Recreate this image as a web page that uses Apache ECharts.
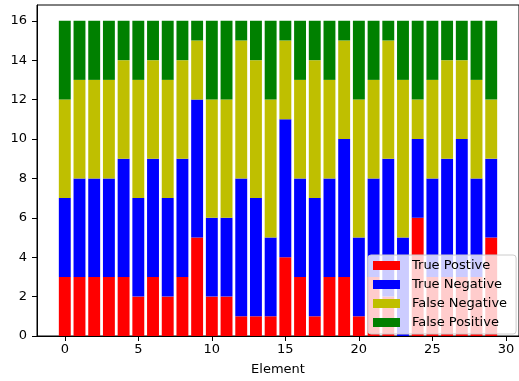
<!DOCTYPE html>
<html>
<head>
<meta charset="utf-8">
<script src="https://cdn.jsdelivr.net/npm/echarts@6/dist/echarts.min.js"></script>
<style>
  html, body { margin: 0; padding: 0; background: #ffffff; }
  #chart { width: 519px; height: 381px; }
</style>
</head>
<body>
<div id="chart"></div>
<script>
// Element indices along the x axis
const elements = [0, 1, 2, 3, 4, 5, 6, 7, 8, 9, 10, 11, 12, 13, 14, 15, 16, 17, 18, 19, 20, 21, 22, 23, 24, 25, 26, 27, 28, 29];

// Counts per element, stacked bottom to top
const truePositive  = [3, 3, 3, 3, 3, 2, 3, 2, 3, 5, 2, 2, 1, 1, 1, 4, 3, 1, 3, 3, 1, 3, 2, 0, 6, 3, 3, 3, 3, 5];
const trueNegative  = [4, 5, 5, 5, 6, 5, 6, 5, 6, 7, 4, 4, 7, 6, 4, 7, 5, 6, 5, 7, 4, 5, 7, 5, 4, 5, 6, 7, 5, 4];
const falseNegative = [5, 5, 5, 5, 5, 6, 5, 6, 5, 3, 6, 6, 7, 7, 7, 4, 5, 7, 5, 5, 7, 5, 6, 8, 2, 5, 5, 4, 5, 3];
const falsePositive = [4, 3, 3, 3, 2, 3, 2, 3, 2, 1, 4, 4, 1, 2, 4, 1, 3, 2, 3, 1, 4, 3, 1, 3, 4, 3, 2, 2, 3, 4];

// Tick labels
const xTickValues = [0, 5, 10, 15, 20, 25, 30];
const yTickValues = [0, 2, 4, 6, 8, 10, 12, 14, 16];

const seriesNames = ['True Postive', 'True Negative', 'False Negative', 'False Positive'];
const seriesColors = ['#ff0000', '#0000ff', '#bfbf00', '#008000'];
const seriesValues = [truePositive, trueNegative, falseNegative, falsePositive];

// Axis extents with 5% padding around the bars (bar width 0.8)
const xMin = -0.4 - 0.05 * 29.8;
const xMax = 29.4 + 0.05 * 29.8;
const yMax = 16 * 1.05;

const gridLeft = 37, gridTop = 5, gridWidth = 488, gridHeight = 336;
const barPx = 0.8 * gridWidth / (xMax - xMin);

const font = 'DejaVu Sans';
const chart = echarts.init(document.getElementById('chart'), null, { renderer: 'canvas' });

chart.setOption({
  animation: false,
  backgroundColor: '#ffffff',
  grid: {
    left: gridLeft, top: gridTop, width: gridWidth, height: gridHeight,
    show: true, borderColor: '#000000', borderWidth: 1, backgroundColor: 'transparent'
  },
  xAxis: {
    type: 'value',
    min: xMin, max: xMax,
    name: 'Element',
    nameLocation: 'middle',
    nameGap: 27,
    nameTextStyle: { fontFamily: font, fontSize: 13, color: '#000' },
    axisLine: { show: true, onZero: false, lineStyle: { color: '#000', width: 1 } },
    axisTick: { show: true, length: 5, lineStyle: { color: '#000' }, customValues: xTickValues },
    axisLabel: { fontFamily: font, fontSize: 13, color: '#000', margin: 7, customValues: xTickValues },
    splitLine: { show: false }
  },
  yAxis: {
    type: 'value',
    min: 0, max: yMax,
    axisLine: { show: true, onZero: false, lineStyle: { color: '#000', width: 1 } },
    axisTick: { show: true, length: 5, lineStyle: { color: '#000' }, customValues: yTickValues },
    axisLabel: { fontFamily: font, fontSize: 13, color: '#000', margin: 10, customValues: yTickValues },
    splitLine: { show: false }
  },
  legend: {
    data: seriesNames,
    orient: 'vertical',
    left: 368, top: 255,
    padding: [3, 9, 4, 5],
    itemGap: 4,
    itemWidth: 27, itemHeight: 9,
    icon: 'rect',
    backgroundColor: 'rgba(255,255,255,0.8)',
    borderColor: '#cccccc', borderWidth: 1, borderRadius: 3,
    textStyle: { fontFamily: font, fontSize: 13, color: '#000', lineHeight: 15, padding: [0, 0, 0, 7] }
  },
  // Count goes in the first column so the stack accumulates along y
  series: seriesNames.map((name, s) => ({
    name: name,
    type: 'bar',
    stack: 'total',
    barWidth: barPx,
    itemStyle: { color: seriesColors[s] },
    encode: { x: 1, y: 0 },
    data: elements.map((e, i) => [seriesValues[s][i], e])
  }))
});
</script>
</body>
</html>
